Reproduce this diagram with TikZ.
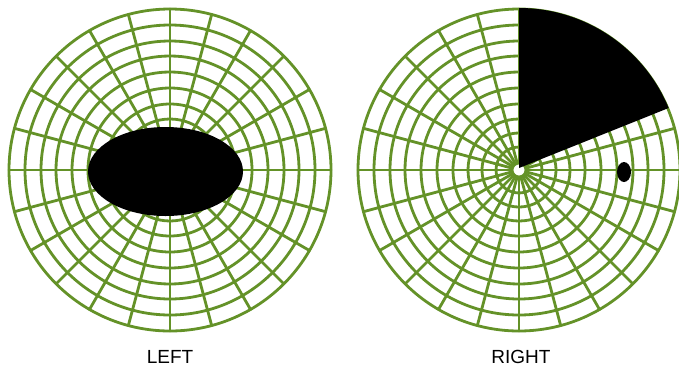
\documentclass[tikz,border=0pt]{standalone}
\usepackage{fontspec}
\setmainfont{Liberation Sans}
\definecolor{gridgreen}{RGB}{100,146,40}
\tikzset{
  fieldline/.style={draw=gridgreen, line width=2.8pt},
  blindspot/.style={fill=black},
  eyelabel/.style={font=\fontsize{19}{21}\selectfont},
}
\begin{document}
\begin{tikzpicture}[x=1pt,y=-1pt,line cap=round,line join=round]
  \useasboundingbox (0,0) rectangle (679,368);
  % 左眼：中心大暗点
  \begin{scope}[shift={(170,170)}]
    \foreach \r in {7,23,37,51,66,82,98,114,129,145,161}
      \draw[fieldline] (0,0) circle[radius=\r];
    \foreach \a in {0,15,...,345}
      \draw[fieldline] (\a:7) -- (\a:161);
    \fill[blindspot] (-4.5,1.5) ellipse[x radius=77.5, y radius=44.5];
  \end{scope}
  \node[eyelabel] (lefttext) at (170,357) {LEFT};
  % 右眼：右上象限缺损
  \begin{scope}[shift={(519,170)}]
    \foreach \r in {7,23,37,51,66,82,98,114,129,145,161}
      \draw[fieldline] (0,0) circle[radius=\r];
    \foreach \a in {0,15,...,345}
      \draw[fieldline] (\a:7) -- (\a:161);
    \fill[blindspot] (0,-2) -- (-90:162) arc[start angle=-90, end angle=-22.5, radius=162] -- cycle;
    \fill[blindspot] (105,2) ellipse[x radius=7, y radius=10];
  \end{scope}
  \node[eyelabel] (righttext) at (521,357) {RIGHT};
\end{tikzpicture}
\end{document}
